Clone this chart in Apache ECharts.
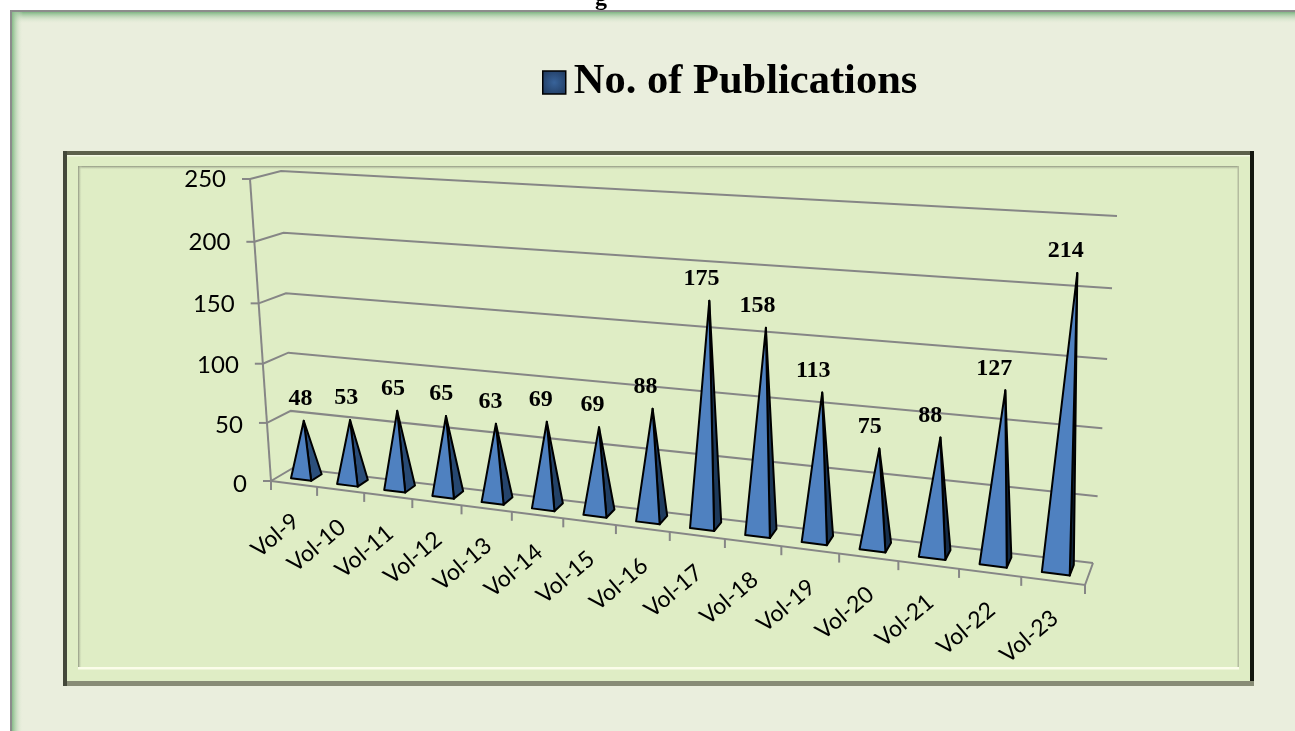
<!DOCTYPE html>
<html><head><meta charset="utf-8">
<style>html,body{margin:0;padding:0;background:#fff}#c{width:1295px;height:731px}</style>
<script src="https://cdn.jsdelivr.net/npm/echarts@6/dist/echarts.min.js"></script>
</head><body><div id="c"></div>
<script>
const categories = ['Vol-9','Vol-10','Vol-11','Vol-12','Vol-13','Vol-14','Vol-15','Vol-16','Vol-17','Vol-18','Vol-19','Vol-20','Vol-21','Vol-22','Vol-23'];
const publications = [48,53,65,65,63,69,69,88,175,158,113,75,88,127,214];
const tickValues = [0,50,100,150,200,250];
const seriesName = 'No. of Publications';

// Perspective box corners: [x,y] for front/back, left/right, bottom/top
const C = {
  fl0:[271,481], fl1:[250,179], fr0:[1085,585], fr1:[1110,232],
  bl0:[293,468], bl1:[281,171], br0:[1093,563], br1:[1117,216]
};
const RU = 1.19, RV = 1.05;
const pu = u => u / (u + RU * (1 - u));
const pv = v => v / (v + RV * (1 - v));
const mix = (a,b,t) => [a[0]+(b[0]-a[0])*t, a[1]+(b[1]-a[1])*t];
function project(u, v, d){
  const U = pu(u), V = pv(v);
  const f0 = mix(C.fl0,C.fr0,U), f1 = mix(C.fl1,C.fr1,U);
  const b0 = mix(C.bl0,C.br0,U), b1 = mix(C.bl1,C.br1,U);
  return mix(mix(f0,f1,V), mix(b0,b1,V), d);
}
function norm(params, api, cat, val){
  const cs = params.coordSys, p = api.coord([cat, val]);
  return {u:(p[0]-cs.x)/cs.width, v:(cs.y+cs.height-p[1])/cs.height, du:api.size([1,0])[0]/cs.width};
}
const GRID = '#868686';
const line = (pts,w) => ({type:'polyline',shape:{points:pts},style:{fill:'none',stroke:GRID,lineWidth:w||2}});

function renderWall(params, api){
  const n = norm(params, api, 0, api.value(0));
  const a = project(0,n.v,0), b = project(0,n.v,1), c = project(1,n.v,1);
  const kids = [line([a,b,c]), line([[a[0]-8,a[1]],a])];
  if (params.dataIndex === 0) {
    const top = project(0,1,0), fr = project(1,0,0);
    kids.push(line([a,top]));
    kids.push(line([a,fr,c]));
    kids.push(line([fr,[fr[0],fr[1]+9]]));
  }
  kids.push({type:'text',x:a[0]-24,y:a[1]+3-n.v*3,style:{text:String(api.value(0)),align:'right',verticalAlign:'middle',
    font:'24px Lato',fill:'#000'}});
  return {type:'group',children:kids};
}
function renderBar(params, api){
  const i = params.dataIndex, val = api.value(1);
  const base = norm(params, api, i, 0), top = norm(params, api, i, val);
  const u = base.u, hw = base.du*0.22, d0=0.33, d1=0.82;
  const fl = project(u-hw,0,d0), fr = project(u+hw,0,d0), br = project(u+hw,0,d1);
  const apex = project(u,top.v,0.58);
  const t = pu(u), g = a => Math.round(a);
  const side = 'rgb('+g(44-28*t)+','+g(80-44*t)+','+g(125-66*t)+')';
  const tl = project(u-base.du/2,0,0), tickEnd = [tl[0],tl[1]+9];
  const mid = project(u,0,0);
  return {type:'group',children:[
    line([tl,tickEnd]),
    {type:'polygon',shape:{points:[fr,br,apex]},style:{fill:side,stroke:'#000',lineWidth:2,lineJoin:'round'}},
    {type:'polygon',shape:{points:[fl,fr,apex]},style:{fill:'#4f81c0',stroke:'#000',lineWidth:2,lineJoin:'round'}},
    {type:'text',x:apex[0]-3-9*t,y:apex[1]-22,style:{text:String(val),align:'center',verticalAlign:'middle',
      font:'bold 24px "Liberation Serif"',fill:'#000'}},
    {type:'text',x:mid[0]+2,y:mid[1]+34,rotation:40*Math.PI/180,style:{text:categories[i],
      align:'right',verticalAlign:'middle',font:'23px Lato',fill:'#000'}}
  ]};
}

const rect = (x,y,w,h,fill) => ({type:'rect',silent:true,shape:{x,y,width:w,height:h},style:{fill}});
const grad = (x2,y2,from,to) => new echarts.graphic.LinearGradient(0,0,x2,y2,[{offset:0,color:from},{offset:1,color:to}]);
const BG = '#eaeedd', BG0 = 'rgba(234,238,221,0)', FILL = '#dfedc5', FILL0 = 'rgba(223,237,197,0)';
const frame = [
  rect(0,0,1295,731,'#ffffff'),
  rect(10,10,1285,721,'#8c8c8c'),
  rect(12,12,1283,719,BG),
  rect(12,12,1283,12,grad(0,1,'#7fb583',BG0)),
  rect(12,12,11,719,grad(1,0,'#86bb88',BG0)),
  rect(63,151,1191,535,FILL),
  rect(63,151,1191,4,'#5d614c'),
  rect(67,155,1183,1.5,'#f3f8e4'),
  rect(63,151,4,535,'#44483a'),
  rect(1250,151,4,535,'#14170f'),
  rect(67,681,1187,5,'#888c76'),
  rect(78,166,1161,4,grad(0,1,'#8f9580',FILL0)),
  rect(78,166,4,503,grad(1,0,'#8f9580',FILL0)),
  rect(1237.5,166,1.5,503,'#b4bc9f'),
  rect(78,667,1161,2.5,'#fbfdea'),
  {type:'text',silent:true,x:601,y:-13,style:{text:'g',align:'center',verticalAlign:'top',font:'bold 24px "Liberation Serif"',fill:'#000'}}
];

const option = {
  animation:false,
  backgroundColor:'#fff',
  graphic:{elements:frame},
  legend:{
    left:537,top:56,itemWidth:23,itemHeight:23,
    selectedMode:false,
    textStyle:{fontFamily:'Liberation Serif',fontWeight:'bold',fontSize:42.5,color:'#000',padding:[0,0,0,3]},
    data:[{name:seriesName,icon:'rect',itemStyle:{
      color:new echarts.graphic.RadialGradient(0.5,0.5,0.7,[{offset:0,color:'#38639a'},{offset:1,color:'#1d3557'}]),
      borderColor:'#000',borderWidth:1.5}}]
  },
  grid:{left:271,top:179,width:815,height:302},
  xAxis:{type:'category',data:categories,show:false},
  yAxis:{type:'value',min:0,max:250,interval:50,show:false},
  series:[
    {type:'custom',name:'wall',coordinateSystem:'cartesian2d',clip:false,silent:true,z:2,
      data:tickValues.map(v=>[v]),encode:{x:[],y:0},renderItem:renderWall},
    {type:'custom',name:seriesName,coordinateSystem:'cartesian2d',clip:false,silent:true,z:3,
      itemStyle:{color:'#2f5a8c'},
      data:publications.map((v,i)=>[categories[i],v]),encode:{x:0,y:1},renderItem:renderBar}
  ]
};
const chart = echarts.init(document.getElementById('c'),null,{renderer:'canvas'});
chart.setOption(option);
</script></body></html>
